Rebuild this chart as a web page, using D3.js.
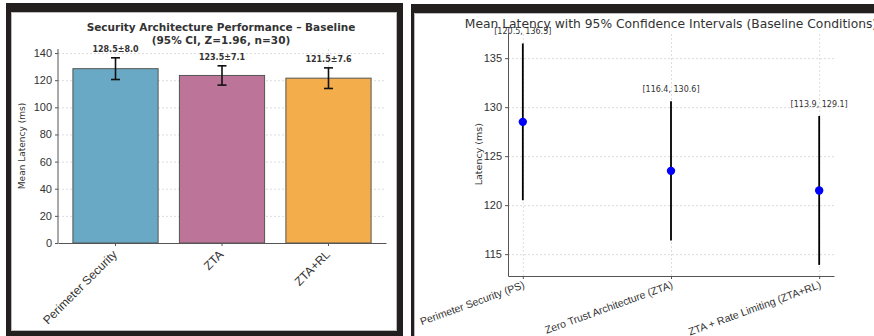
<!DOCTYPE html>
<html>
<head>
<meta charset="utf-8">
<script src="https://cdn.jsdelivr.net/npm/d3@7"></script>
<style>
  body { margin: 0; background: #fff; }
  svg { display: block; font-family: "DejaVu Sans", sans-serif; }
  .grid line { stroke: #ddd; stroke-dasharray: 2,2; }
  .grid path { display: none; }
</style>
</head>
<body>
<script>
// data
const shortNames = ["Perimeter Security", "ZTA", "ZTA+RL"];
const longNames = ["Perimeter Security (PS)", "Zero Trust Architecture (ZTA)", "ZTA + Rate Limiting (ZTA+RL)"];
const means = [128.5, 123.5, 121.5];
const errors = [8.0, 7.1, 7.6];
const ciLower = [120.5, 116.4, 113.9];
const ciUpper = [136.5, 130.6, 129.1];
const barTicks = [0, 20, 40, 60, 80, 100, 120, 140];
const ciTicks = [115, 120, 125, 130, 135];

const W = 874, H = 336;
const svg = d3.select("body").append("svg")
    .attr("width", W)
    .attr("height", H);

// panel frames
const frame = svg.append("g").attr("fill", "#231f1e");
frame.append("rect").attr("x", 6).attr("y", 3).attr("width", 397).attr("height", 9);
frame.append("rect").attr("x", 6).attr("y", 3).attr("width", 5).attr("height", 333);
frame.append("rect").attr("x", 397).attr("y", 3).attr("width", 6).attr("height", 333);
frame.append("rect").attr("x", 6).attr("y", 331).attr("width", 397).attr("height", 5);
frame.append("rect").attr("x", 411).attr("y", 4).attr("width", 463).attr("height", 9);
frame.append("rect").attr("x", 411).attr("y", 4).attr("width", 3).attr("height", 332);
svg.append("rect").attr("x", 11.5).attr("y", 12.5).attr("width", 385).attr("height", 318)
    .attr("fill", "none").attr("stroke", "#bbb");
svg.append("path").attr("d", "M414.5,336V13.5H874")
    .attr("fill", "none").attr("stroke", "#bbb");

function styleAxis(g) {
    g.select(".domain").attr("stroke", "#555");
    g.selectAll(".tick line").attr("stroke", "#555");
    g.selectAll(".tick text").attr("fill", "#333");
}

// ---------- left: bar chart ----------
const L = {left: 58, right: 386, top: 49, bottom: 243};

const xBar = d3.scaleBand()
    .domain(shortNames)
    .range([L.left, L.right])
    .paddingInner(0.2)
    .paddingOuter(0.14);

const yBar = d3.scaleLinear()
    .domain([0, 143])
    .range([L.bottom, L.top]);

const color = d3.scaleOrdinal()
    .domain(shortNames)
    .range(["#6aa9c5", "#bd7499", "#f3ae4b"]);

const gl = svg.append("g");

gl.append("g").attr("class", "grid")
    .attr("transform", `translate(${L.left},0)`)
    .call(d3.axisLeft(yBar).tickValues(barTicks).tickSize(-(L.right - L.left)).tickFormat(""));
gl.append("g").attr("class", "grid")
    .attr("transform", `translate(0,${L.bottom})`)
    .call(d3.axisBottom(xBar).tickSize(-(L.bottom - L.top)).tickFormat(""));

gl.selectAll(".bar")
    .data(shortNames)
    .join("rect")
    .attr("x", d => xBar(d))
    .attr("y", (d, i) => yBar(means[i]))
    .attr("width", xBar.bandwidth())
    .attr("height", (d, i) => yBar(0) - yBar(means[i]))
    .attr("fill", d => color(d))
    .attr("stroke", "#555")
    .attr("stroke-width", 1);

// error bars
const cx = d => xBar(d) + xBar.bandwidth() / 2;
const eb = gl.append("g").attr("stroke", "#111").attr("stroke-width", 1.6);
shortNames.forEach((d, i) => {
    const top = yBar(means[i] + errors[i]), bot = yBar(means[i] - errors[i]);
    eb.append("line").attr("x1", cx(d)).attr("x2", cx(d)).attr("y1", top).attr("y2", bot);
    eb.append("line").attr("x1", cx(d) - 4.5).attr("x2", cx(d) + 4.5).attr("y1", top).attr("y2", top);
    eb.append("line").attr("x1", cx(d) - 4.5).attr("x2", cx(d) + 4.5).attr("y1", bot).attr("y2", bot);
});

gl.selectAll(".val")
    .data(shortNames)
    .join("text")
    .attr("x", d => cx(d))
    .attr("y", (d, i) => yBar(means[i] + errors[i]) - 6)
    .attr("text-anchor", "middle")
    .attr("font-size", 8)
    .attr("font-weight", "bold")
    .attr("fill", "#333")
    .text((d, i) => `${means[i].toFixed(1)}±${errors[i].toFixed(1)}`);

gl.append("g")
    .attr("transform", `translate(${L.left},0)`)
    .call(d3.axisLeft(yBar).tickValues(barTicks).tickSize(3).tickPadding(3))
    .call(styleAxis)
    .call(g => g.select(".domain").attr("d", `M0,${L.bottom}V${yBar(143)}`))
    .selectAll(".tick text").attr("font-size", 11);

gl.append("g")
    .attr("transform", `translate(0,${L.bottom})`)
    .call(d3.axisBottom(xBar).tickSize(3).tickSizeOuter(0))
    .call(styleAxis)
    .selectAll(".tick text")
    .attr("font-size", 12)
    .attr("text-anchor", "end")
    .attr("dy", 0)
    .attr("transform", "translate(-2,8) rotate(-45)");

gl.append("text")
    .attr("transform", `translate(25,${(L.top + L.bottom) / 2}) rotate(-90)`)
    .attr("text-anchor", "middle")
    .attr("font-size", 9)
    .attr("fill", "#333")
    .text("Mean Latency (ms)");

gl.append("text")
    .attr("x", 221).attr("y", 31)
    .attr("text-anchor", "middle")
    .attr("font-size", 10.5)
    .attr("font-weight", "bold")
    .attr("fill", "#333")
    .text("Security Architecture Performance – Baseline");
gl.append("text")
    .attr("x", 221).attr("y", 44)
    .attr("text-anchor", "middle")
    .attr("font-size", 10.5)
    .attr("font-weight", "bold")
    .attr("fill", "#333")
    .text("(95% CI, Z=1.96, n=30)");

// ---------- right: confidence intervals ----------
const R = {left: 508, right: 834, top: 32.4, bottom: 276};

const xCi = d3.scaleLinear()
    .domain([-0.1, 2.1])
    .range([R.left, R.right]);

const yCi = d3.scaleLinear()
    .domain([112.77, 137.63])
    .range([R.bottom, R.top]);

const gr = svg.append("g");
const idx = longNames.map((d, i) => i);

gr.append("g").attr("class", "grid")
    .attr("transform", `translate(${R.left},0)`)
    .call(d3.axisLeft(yCi).tickValues(ciTicks).tickSize(-(R.right - R.left)).tickFormat(""));
gr.append("g").attr("class", "grid")
    .attr("transform", `translate(0,${R.bottom})`)
    .call(d3.axisBottom(xCi).tickValues(idx).tickSize(-(R.bottom - R.top)).tickFormat(""));

gr.selectAll(".ci")
    .data(idx)
    .join("line")
    .attr("x1", i => xCi(i)).attr("x2", i => xCi(i))
    .attr("y1", i => yCi(ciLower[i])).attr("y2", i => yCi(ciUpper[i]))
    .attr("stroke", "#000")
    .attr("stroke-width", 1.8);

gr.selectAll(".pt")
    .data(idx)
    .join("circle")
    .attr("cx", i => xCi(i))
    .attr("cy", i => yCi(means[i]))
    .attr("r", 4.2)
    .attr("fill", "#0000ff");

gr.selectAll(".cilab")
    .data(idx)
    .join("text")
    .attr("x", i => xCi(i))
    .attr("y", i => yCi(ciUpper[i]) - 9)
    .attr("text-anchor", "middle")
    .attr("font-size", 8)
    .attr("fill", "#333")
    .text(i => `[${ciLower[i].toFixed(1)}, ${ciUpper[i].toFixed(1)}]`);

gr.append("g")
    .attr("transform", `translate(${R.left},0)`)
    .call(d3.axisLeft(yCi).tickValues(ciTicks).tickSize(3).tickPadding(3).tickSizeOuter(0))
    .call(styleAxis)
    .selectAll(".tick text").attr("font-size", 11);

gr.append("g")
    .attr("transform", `translate(0,${R.bottom})`)
    .call(d3.axisBottom(xCi).tickValues(idx).tickSize(3).tickSizeOuter(0).tickFormat(i => longNames[i]))
    .call(styleAxis)
    .selectAll(".tick text")
    .attr("font-size", 10.5)
    .attr("text-anchor", "end")
    .attr("dy", 0)
    .attr("transform", "translate(0,6) rotate(-20)");

gr.append("text")
    .attr("transform", `translate(482,${(R.top + R.bottom) / 2}) rotate(-90)`)
    .attr("text-anchor", "middle")
    .attr("font-size", 9.5)
    .attr("fill", "#333")
    .text("Latency (ms)");

gr.append("text")
    .attr("x", (R.left + R.right) / 2).attr("y", 28)
    .attr("text-anchor", "middle")
    .attr("font-size", 12.3)
    .attr("fill", "#333")
    .text("Mean Latency with 95% Confidence Intervals (Baseline Conditions)");
</script>
</body>
</html>
